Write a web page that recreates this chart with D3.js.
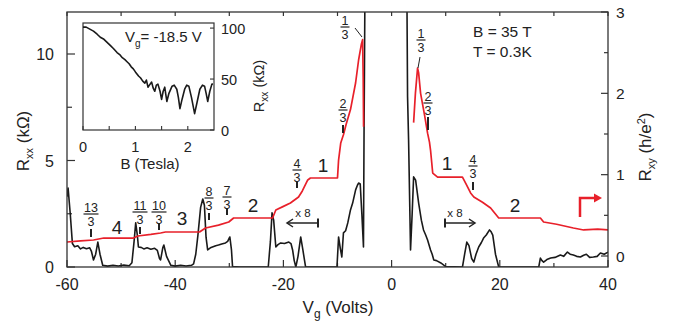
<!DOCTYPE html>
<html>
<head>
<meta charset="utf-8">
<script src="https://cdn.jsdelivr.net/npm/d3@7"></script>
<style>
  html, body { margin: 0; padding: 0; background: #fff; }
  svg { display: block; font-family: "Liberation Sans", Arial, Helvetica, sans-serif; }
</style>
</head>
<body>
<svg id="chart" width="683" height="328"></svg>
<script>
// ---------------- DATA ----------------
// Rxx (kOhm) vs Vg (Volts), black trace (values above 12 are off-scale and clipped)
const rxxTrace = [
  [-60,3.3],[-59.8,3.71],[-59.4,2.5],[-59.0,1.1],[-58.6,0.95],[-58.0,1.0],[-57.5,0.85],[-57.0,0.92],
  [-56.4,0.86],[-55.8,0.9],[-55.5,0.75],[-55.1,0.33],[-54.7,0.6],[-54.3,1.17],[-53.9,0.6],[-53.4,0.08],
  [-52.5,0.04],[-51.5,0.08],[-50.5,0.05],[-49.5,0.09],[-48.5,0.06],[-48.0,0.2],[-47.6,1.2],[-47.3,2.07],
  [-47.0,1.5],[-46.8,0.94],[-46.3,0.92],[-45.8,0.85],[-45.2,0.9],[-44.5,0.83],[-43.8,0.88],[-43.3,0.78],
  [-42.9,0.4],[-42.7,0.33],[-42.3,0.9],[-42.1,1.03],[-41.6,0.5],[-40.8,0.08],[-40,0.04],[-39.0,0.08],
  [-38,0.05],[-37,0.08],[-36.6,0.15],[-36.2,0.6],[-35.8,1.5],[-35.3,2.8],[-34.9,3.19],[-34.6,2.9],
  [-34.3,1.4],[-34.0,0.8],[-33.5,0.9],[-33.0,0.95],[-32.5,1.0],[-32.0,1.03],[-31.4,1.08],[-30.7,1.13],
  [-30.3,1.2],[-29.9,1.41],[-29.6,0.8],[-29.4,0.02],[-28,0],[-25,0],[-22.8,0],[-22.4,1.2],[-22.1,2.54],
  [-21.8,2.2],[-21.4,0.94],[-21.0,1.05],[-20.5,1.13],[-19.8,1.1],[-19.0,1.17],[-18.6,1.1],[-18.3,0.8],
  [-18.0,0.3],[-17.7,0],[-17.3,0.5],[-16.8,1.41],[-16.4,0.8],[-15.9,0],[-10.1,0],[-9.8,1.41],[-9.5,0.9],
  [-9.2,0.47],[-8.9,1.6],[-8.5,1.7],[-8.1,2.07],[-7.6,2.68],[-7.2,3.0],[-6.65,3.62],[-6.3,3.85],
  [-6.1,3.94],[-5.8,3.9],[-5.5,2.5],[-5.2,0.94],[-5.1,6],[-4.9,14],[2.8,14],[2.95,8],[3.14,5.96],
  [3.5,0.8],[3.8,2.5],[4.07,4.23],[4.44,4.08],[5.0,3.0],[5.5,2.2],[5.9,1.74],[6.3,1.5],[6.65,1.27],
  [7.2,0.8],[7.5,0.6],[7.8,0.33],[8.3,0.3],[9.1,0.19],[10,0.02],[13.1,0],[13.5,0.6],[13.9,1.17],
  [14.3,1.0],[14.8,0.4],[15.2,0.23],[15.6,0.6],[16.1,0.94],[16.6,1.15],[17.0,1.36],[17.5,1.5],
  [18.1,1.74],[18.4,1.65],[18.7,1.5],[19.2,0.6],[19.8,0],[27.2,0],[27.5,0.42],[27.8,0.3],[28.1,0.23],
  [28.7,0.35],[29.4,0.42],[30.2,0.45],[31.2,0.56],[31.8,0.5],[32.5,0.7],[33.0,0.6],[33.6,0.56],
  [34.2,0.5],[34.9,0.47],[35.5,0.55],[36.0,0.6],[36.6,0.45],[37.3,0.47],[38.0,0.5],[38.6,0.66],
  [39.3,0.6],[40,0.7]
];
// Rxy (h/e^2) vs Vg, red trace, hole side and electron side
const rxyHoles = [
  [-60,0.172],[-57.5,0.185],[-55.1,0.197],[-53.2,0.221],[-50,0.221],[-47.7,0.221],[-46.9,0.246],
  [-44.5,0.265],[-42.7,0.283],[-41.8,0.295],[-35.5,0.295],[-34.4,0.344],[-32,0.38],[-30.1,0.418],
  [-29.2,0.467],[-22.0,0.467],[-21.4,0.566],[-20,0.61],[-18.7,0.652],[-17.2,0.726],[-16.5,0.8],
  [-15.5,0.935],[-15.0,0.959],[-10.0,0.959],[-9.8,1.18],[-9.4,1.39],[-9.1,1.45],[-8.9,1.49],
  [-8.4,1.62],[-7.6,1.80],[-6.65,2.13],[-6.1,2.41],[-5.6,2.6],[-5.36,2.66],[-5.25,2.2],[-5.18,1.59]
];
const rxyElectrons = [
  [4.07,1.64],[4.4,2.0],[4.8,2.31],[5.0,2.25],[5.36,2.0],[6.1,1.73],[6.65,1.51],[7.0,1.4],[7.2,1.30],
  [7.6,1.02],[8.5,0.97],[13.1,0.97],[13.8,0.88],[14.6,0.775],[15.2,0.726],[16.8,0.66],[18.3,0.59],
  [19.8,0.467],[27.5,0.467],[28.1,0.418],[30.5,0.39],[33.6,0.344],[35.5,0.32],[38.1,0.33],[40,0.32]
];
// Inset: Rxx (kOhm) vs B (Tesla) at Vg = -18.5 V
const insetTrace = [
  [0,101],[0.06,101],[0.13,99],[0.2,97],[0.27,94],[0.33,91],[0.4,89],[0.46,86],[0.52,83],[0.58,80],
  [0.65,76],[0.7,74],[0.75,71],[0.8,69],[0.84,67],[0.88,65],[0.92,62],[0.96,60],[1.0,57],[1.03,55],
  [1.06,53],[1.1,51],[1.14,48],[1.18,46],[1.21,49],[1.24,42],[1.28,45],[1.31,47],[1.34,41],[1.37,38],
  [1.4,44],[1.43,45],[1.47,38],[1.50,30],[1.53,38],[1.56,42],[1.58,35],[1.60,28],[1.64,36],[1.70,43],
  [1.74,44],[1.79,40],[1.82,32],[1.85,21],[1.89,30],[1.94,40],[1.98,44],[2.02,43],[2.07,32],[2.13,16],
  [2.18,28],[2.23,40],[2.28,44],[2.32,43],[2.35,36],[2.38,28],[2.42,38],[2.46,45],[2.48,45]
];
const xTicksMajor = [-60, -40, -20, 0, 20, 40];
const xTicksMinor = [-50, -30, -10, 10, 30];
const yLeftTicks = [0, 5, 10];
const yLeftMinor = [2.5, 7.5];
const yRightTicks = [0, 1, 2, 3];
const yRightMinor = [0.5, 1.5, 2.5];
const insetXTicks = [0, 1, 2];
const insetXMinor = [0.5, 1.5];
const insetYTicks = [0, 50, 100];

// ---------------- LAYOUT ----------------
const svg = d3.select("#chart");
const L = 67, R = 608, T = 12, B = 267;
const x = d3.scaleLinear().domain([-60, 40]).range([L, R]);
const yL = d3.scaleLinear().domain([0, 10]).range([B, 54]);
const yR = d3.scaleLinear().domain([0, 3]).range([256, T]);
const ink = "#222";
const red = "#e8202a";

svg.append("defs").append("clipPath").attr("id", "plotclip")
  .append("rect").attr("x", L).attr("y", T).attr("width", R - L).attr("height", B - T);

// Axes (inward ticks)
const gAx = svg.append("g").attr("font-size", 16).attr("fill", ink);
function drawTicks(vals, fn, len) {
  vals.forEach(v => fn(v, len));
}
const tickStroke = (sel) => sel.attr("stroke", "#333").attr("stroke-width", 1.2);
// bottom
drawTicks(xTicksMajor, (v, len) => tickStroke(gAx.append("line").attr("x1", x(v)).attr("x2", x(v)).attr("y1", B).attr("y2", B - len)), 7);
drawTicks(xTicksMinor, (v, len) => tickStroke(gAx.append("line").attr("x1", x(v)).attr("x2", x(v)).attr("y1", B).attr("y2", B - len)), 4);
// top
drawTicks(xTicksMajor.concat(xTicksMinor), (v, len) => tickStroke(gAx.append("line").attr("x1", x(v)).attr("x2", x(v)).attr("y1", T).attr("y2", T + len)), 4);
// left
drawTicks(yLeftTicks, (v, len) => tickStroke(gAx.append("line").attr("x1", L).attr("x2", L + len).attr("y1", yL(v)).attr("y2", yL(v))), 8);
drawTicks(yLeftMinor, (v, len) => tickStroke(gAx.append("line").attr("x1", L).attr("x2", L + len).attr("y1", yL(v)).attr("y2", yL(v))), 5);
// right
drawTicks(yRightTicks, (v, len) => tickStroke(gAx.append("line").attr("x1", R).attr("x2", R - len).attr("y1", yR(v)).attr("y2", yR(v))), 7);
drawTicks(yRightMinor, (v, len) => tickStroke(gAx.append("line").attr("x1", R).attr("x2", R - len).attr("y1", yR(v)).attr("y2", yR(v))), 4);

// tick labels
xTicksMajor.forEach(v => gAx.append("text").attr("x", x(v)).attr("y", 290).attr("text-anchor", "middle").text(v));
yLeftTicks.forEach(v => gAx.append("text").attr("x", 54).attr("y", yL(v) + 6).attr("text-anchor", "end").text(v));
yRightTicks.forEach(v => gAx.append("text").attr("x", 616).attr("y", yR(v) + 5.5).attr("text-anchor", "start").attr("font-size", 15.5).text(v));

// axis titles
const xt = gAx.append("text").attr("x", 338).attr("y", 313).attr("text-anchor", "middle").attr("font-size", 17);
xt.append("tspan").text("V");
xt.append("tspan").attr("font-size", 12).attr("dy", 5).text("g");
xt.append("tspan").attr("dy", -5).text(" (Volts)");

const ylt = gAx.append("text").attr("transform", "translate(29,141) rotate(-90)").attr("text-anchor", "middle").attr("font-size", 17);
ylt.append("tspan").text("R");
ylt.append("tspan").attr("font-size", 11).attr("dy", 4).text("xx");
ylt.append("tspan").attr("dy", -4).text(" (kΩ)");

const yrt = gAx.append("text").attr("transform", "translate(651,147) rotate(-90)").attr("text-anchor", "middle").attr("font-size", 17);
yrt.append("tspan").text("R");
yrt.append("tspan").attr("font-size", 11).attr("dy", 4).text("xy");
yrt.append("tspan").attr("dy", -4).text(" (h/e");
yrt.append("tspan").attr("font-size", 11).attr("dy", -6).text("2");
yrt.append("tspan").attr("dy", 6).text(")");

// curves
const lineL = d3.line().x(d => x(d[0])).y(d => yL(d[1]));
const lineR = d3.line().x(d => x(d[0])).y(d => yR(d[1]));
const gC = svg.append("g").attr("clip-path", "url(#plotclip)");
gC.append("path").datum(rxxTrace).attr("d", lineL).attr("fill", "none").attr("stroke", "#1a1a1a").attr("stroke-width", 1.6).attr("stroke-linejoin", "round");
[rxyHoles, rxyElectrons].forEach(s =>
  gC.append("path").datum(s).attr("d", lineR).attr("fill", "none").attr("stroke", red).attr("stroke-width", 1.7).attr("stroke-linejoin", "round"));

// frame
svg.append("rect").attr("x", L).attr("y", T).attr("width", R - L).attr("height", B - T)
  .attr("fill", "none").attr("stroke", "#333").attr("stroke-width", 1.3);

// ---------------- ANNOTATIONS ----------------
const gA = svg.append("g").attr("fill", ink);
function frac(cx, barY, num, tick, barW) {
  const w = barW || (num.length > 1 ? 15 : 9);
  gA.append("text").attr("x", cx).attr("y", barY - 2).attr("text-anchor", "middle").attr("font-size", 12.5).text(num);
  gA.append("line").attr("x1", cx - w / 2).attr("x2", cx + w / 2).attr("y1", barY).attr("y2", barY).attr("stroke", ink).attr("stroke-width", 1.2);
  gA.append("text").attr("x", cx).attr("y", barY + 12).attr("text-anchor", "middle").attr("font-size", 12.5).text("3");
  if (tick) gA.append("line").attr("x1", cx).attr("x2", cx).attr("y1", tick[0]).attr("y2", tick[1]).attr("stroke", ink).attr("stroke-width", 2);
}
frac(91, 214, "13", [229, 237]);
frac(140, 212, "11", [227, 234]);
frac(159, 212, "10", [223, 230]);
frac(209, 198, "8", [213, 220]);
frac(227, 197, "7", [208, 215]);
frac(297, 170, "4", [182, 188]);
frac(343, 110, "2", [125, 133]);
frac(345, 27, "1", null);
frac(421, 40, "1", null);
frac(428, 103, "2", [117, 130]);
frac(473, 166, "4", [182, 190]);
// leader lines for 1/3
gA.append("line").attr("x1", 355).attr("y1", 28).attr("x2", 362).attr("y2", 37).attr("stroke", ink).attr("stroke-width", 1);
gA.append("line").attr("x1", 420).attr("y1", 57).attr("x2", 418).attr("y2", 68).attr("stroke", ink).attr("stroke-width", 1);

// filling factor numbers
[[117, 234, "4"], [182, 225, "3"], [253, 212, "2"], [323, 172, "1"], [447, 170, "1"], [515, 212, "2"]]
  .forEach(d => gA.append("text").attr("x", d[0]).attr("y", d[1]).attr("text-anchor", "middle").attr("font-size", 19).text(d[2]));

// x 8 markers
function times8(cx, x0, x1, dir) {
  gA.append("text").attr("x", cx).attr("y", 217).attr("text-anchor", "middle").attr("font-size", 11.5).text("x 8");
  gA.append("line").attr("x1", x0).attr("x2", x1).attr("y1", 223).attr("y2", 223).attr("stroke", ink).attr("stroke-width", 1.5);
  gA.append("line").attr("x1", x0).attr("x2", x0).attr("y1", 218.5).attr("y2", 227.5).attr("stroke", ink).attr("stroke-width", 2);
  gA.append("path").attr("d", `M${x1 - dir * 6},219 L${x1},223 L${x1 - dir * 6},227`).attr("fill", "none").attr("stroke", ink).attr("stroke-width", 1.5);
}
times8(303, 318, 287, -1);
times8(455, 445, 475, 1);

// red corner arrow
svg.append("path").attr("d", "M580,217 L580,198 L596,198").attr("fill", "none").attr("stroke", red).attr("stroke-width", 2.5);
svg.append("path").attr("d", "M594,193.5 L602,198 L594,202.5 Z").attr("fill", red);

// B, T text
gA.append("text").attr("x", 473).attr("y", 37).attr("font-size", 15.5).text("B = 35 T");
gA.append("text").attr("x", 473).attr("y", 57).attr("font-size", 15.5).text("T = 0.3K");

// ---------------- INSET ----------------
const IL = 83, IR = 214, IT = 23, IB = 130;
const xi = d3.scaleLinear().domain([0, 2.5]).range([IL, IR]);
const yi = d3.scaleLinear().domain([0, 105]).range([IB, IT]);
const gI = svg.append("g");
gI.append("rect").attr("x", IL).attr("y", IT).attr("width", IR - IL).attr("height", IB - IT).attr("fill", "#fff").attr("stroke", "#333").attr("stroke-width", 1.2);
insetXTicks.concat(insetXMinor).forEach(v =>
  gI.append("line").attr("x1", xi(v)).attr("x2", xi(v)).attr("y1", IB).attr("y2", IB - 4).attr("stroke", "#333").attr("stroke-width", 1.1));
insetYTicks.forEach(v =>
  gI.append("line").attr("x1", IR).attr("x2", IR - 4).attr("y1", yi(v)).attr("y2", yi(v)).attr("stroke", "#333").attr("stroke-width", 1.1));
gI.append("path").datum(insetTrace).attr("d", d3.line().x(d => xi(d[0])).y(d => yi(d[1])))
  .attr("fill", "none").attr("stroke", "#1a1a1a").attr("stroke-width", 1.6).attr("stroke-linejoin", "round");
insetXTicks.forEach(v => gI.append("text").attr("x", xi(v)).attr("y", 152).attr("text-anchor", "middle").attr("font-size", 14.5).attr("fill", ink).text(v));
insetYTicks.forEach(v => gI.append("text").attr("x", 221).attr("y", yi(v) + 5.5).attr("font-size", 14.5).attr("fill", ink).text(v));
gI.append("text").attr("x", 150).attr("y", 169).attr("text-anchor", "middle").attr("font-size", 15).attr("fill", ink).text("B (Tesla)");
const ivt = gI.append("text").attr("x", 125).attr("y", 42).attr("font-size", 15).attr("fill", ink);
ivt.append("tspan").text("V");
ivt.append("tspan").attr("font-size", 10).attr("dy", 5).text("g");
ivt.append("tspan").attr("dy", -5).text("= -18.5 V");
const iyt = gI.append("text").attr("transform", "translate(264,86) rotate(-90)").attr("text-anchor", "middle").attr("font-size", 14.5).attr("fill", ink);
iyt.append("tspan").text("R");
iyt.append("tspan").attr("font-size", 10).attr("dy", 4).text("xx");
iyt.append("tspan").attr("dy", -4).text(" (kΩ)");
</script>
</body>
</html>
